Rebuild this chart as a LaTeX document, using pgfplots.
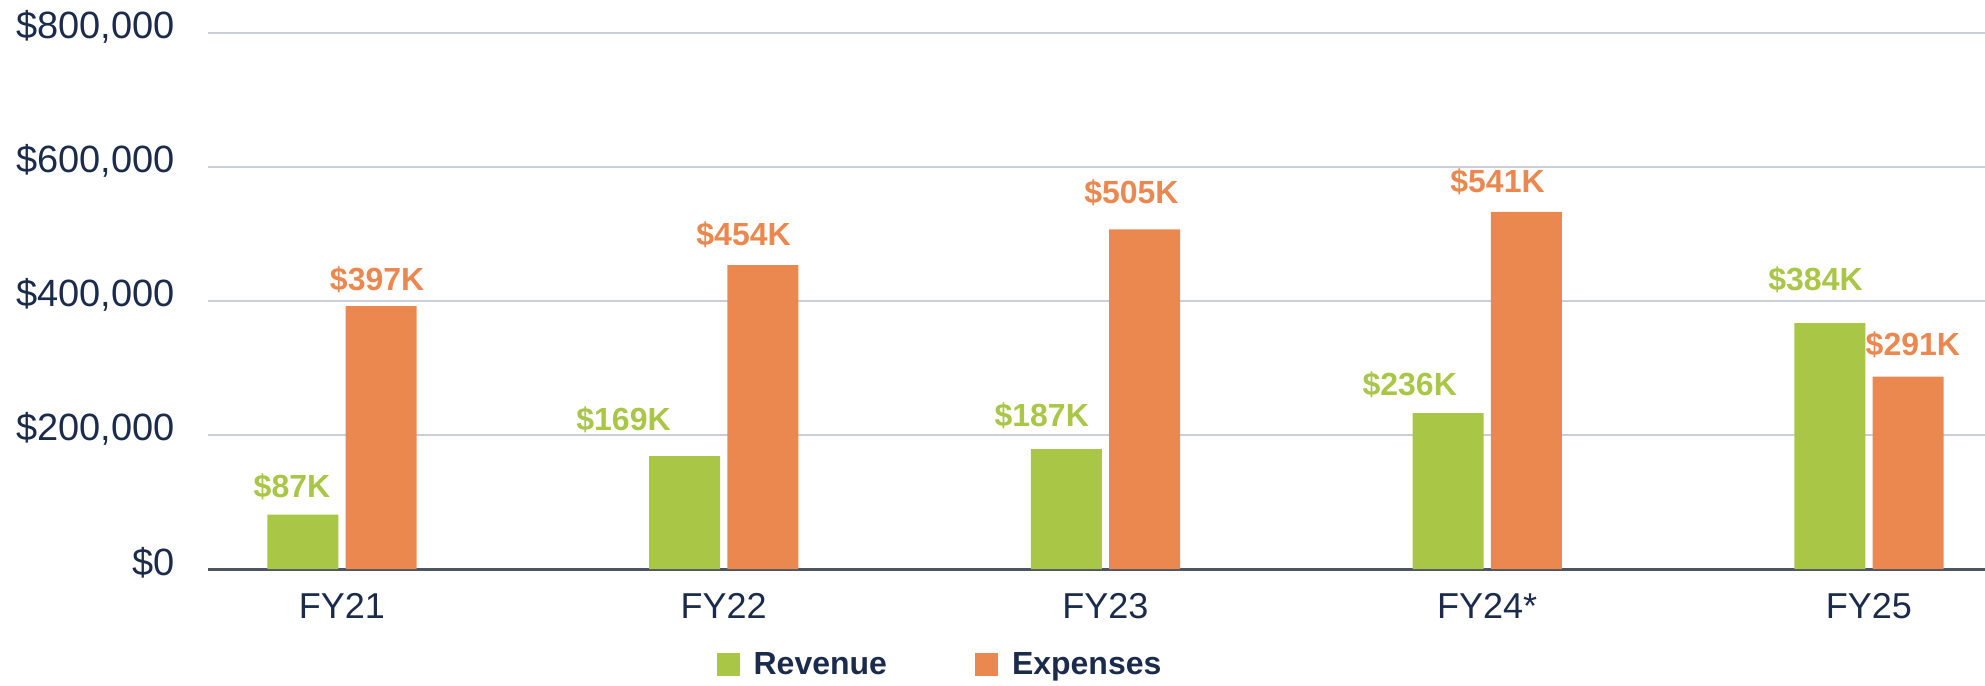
\documentclass[border=0pt]{standalone}
\usepackage{fontspec}
\setmainfont{Liberation Sans}
\usepackage{pgfplots}
\pgfplotsset{compat=1.18}
\definecolor{revg}{HTML}{A9C646}
\definecolor{expo}{HTML}{EB884F}
\definecolor{navy}{HTML}{1B2B4B}
\definecolor{gridc}{HTML}{C9CED9}
\definecolor{axisc}{HTML}{4B5563}
\begin{document}
\begin{tikzpicture}
\begin{axis}[
  at={(0,0)}, anchor=south west, scale only axis,
  width=888.5pt, height=268pt,
  xmin=-0.351, xmax=4.304, ymin=0, ymax=800000,
  axis line style={draw=none},
  major tick length=0pt,
  scaled y ticks=false,
  ytick={200000,400000,600000,800000},
  yticklabels={{\$200,000},{\$400,000},{\$600,000},{\$800,000}},
  extra y ticks={0},
  extra y tick labels={{\$0}},
  extra y tick style={grid style={draw=axisc, line width=1.5pt}},
  ymajorgrids,
  grid style={draw=gridc, line width=1pt},
  yticklabel style={font=\fontsize{19}{22}\selectfont, text=navy, anchor=east, inner sep=0pt, xshift=-16.5pt, yshift=3pt},
  xtick={0,1,2,3,4},
  xticklabels={FY21,FY22,FY23,FY24*,FY25},
  xticklabel style={font=\fontsize{18}{21}\selectfont, text=navy, anchor=base, inner sep=0pt, yshift=-24.5pt},
  legend style={at={(0.4125,-0.179)}, anchor=center, draw=none, fill=none,
    font=\bfseries\fontsize{16}{19}\selectfont, text=navy,
    /tikz/every odd column/.append style={column sep=5pt},
    /tikz/every even column/.append style={column sep=42pt}},
  legend columns=2,
  legend image code/.code={\fill[#1] (0pt,-5.75pt) rectangle (11.5pt,5.75pt);},
]
\addplot[ybar, bar width=35.5pt, bar shift=-19.6pt, fill=revg, draw=none]
  coordinates {(0,81000) (1,168500) (2,179000) (3,232500) (4,367000)};
\addlegendentry{Revenue}
\addplot[ybar, bar width=35.5pt, bar shift=19.6pt, fill=expo, draw=none]
  coordinates {(0,392500) (1,453700) (2,507000) (3,533000) (4,287000)};
\addlegendentry{Expenses}
\tikzset{lab/.style={font=\bfseries\fontsize{16}{19}\selectfont, anchor=center, inner sep=0pt}}
\node[lab, text=revg] at (axis cs:-0.131,122000) {\$87K};
\node[lab, text=expo] at (axis cs:0.092,432000) {\$397K};
\node[lab, text=revg] at (axis cs:0.7375,223000) {\$169K};
\node[lab, text=expo] at (axis cs:1.052,499000) {\$454K};
\node[lab, text=revg] at (axis cs:1.833,229000) {\$187K};
\node[lab, text=expo] at (axis cs:2.068,562000) {\$505K};
\node[lab, text=revg] at (axis cs:2.797,275000) {\$236K};
\node[lab, text=expo] at (axis cs:3.027,578000) {\$541K};
\node[lab, text=revg] at (axis cs:3.860,432000) {\$384K};
\node[lab, text=expo] at (axis cs:4.115,334000) {\$291K};
\end{axis}
\pgfresetboundingbox
\useasboundingbox (-104pt,-58pt) rectangle (888.5pt,284.5pt);
\end{tikzpicture}
\end{document}
